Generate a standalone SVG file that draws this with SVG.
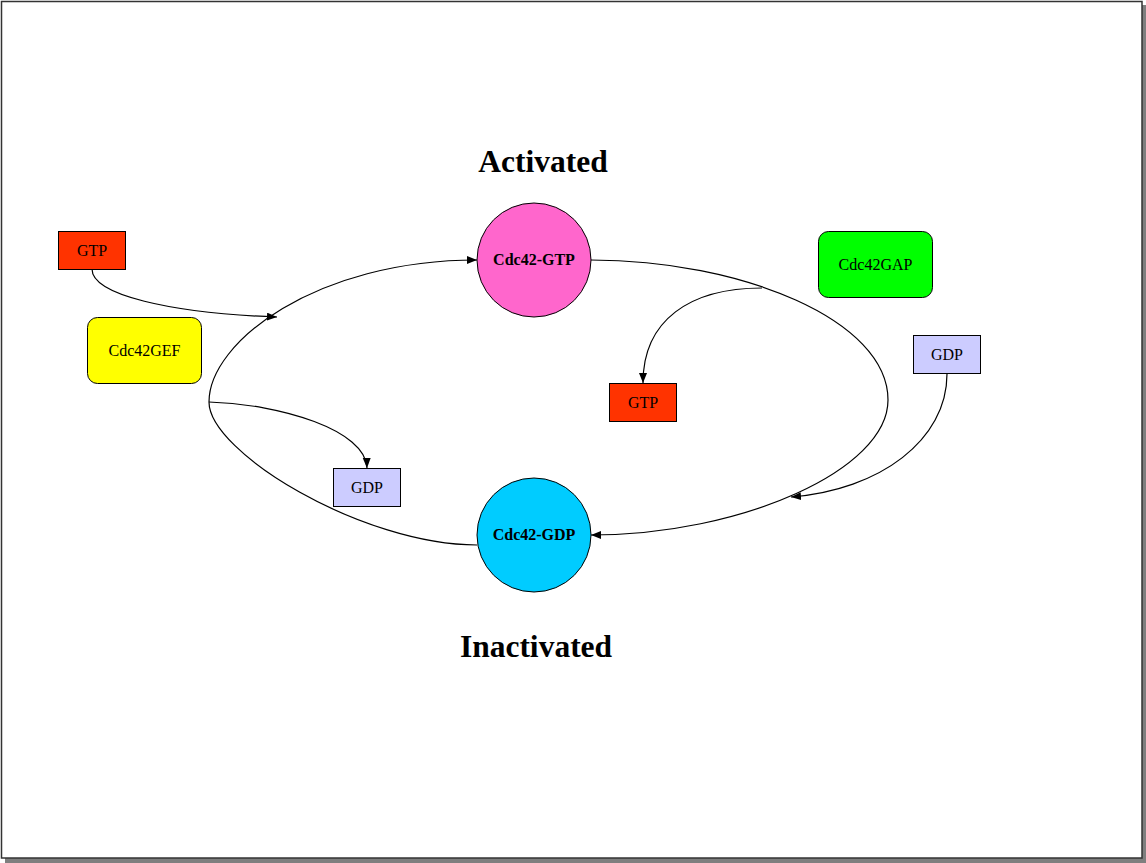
<svg xmlns="http://www.w3.org/2000/svg" width="1146" height="863" viewBox="0 0 1146 863">
<style>
.lbl{font-family:"Liberation Serif","Times New Roman",serif;font-size:16px;fill:#000;text-anchor:middle}
.b{font-weight:bold}
.title{font-family:"Liberation Serif","Times New Roman",serif;font-size:31.5px;font-weight:bold;fill:#000;text-anchor:middle}
.box{stroke:#000;stroke-width:1}
.edge{fill:none;stroke:#000;stroke-width:1.2}
</style>
<defs>
<marker id="arr" markerUnits="userSpaceOnUse" markerWidth="12" markerHeight="10" refX="10" refY="4" orient="auto">
<path d="M0,0 L10,4 L0,8 Z" fill="#000"/>
</marker>
</defs>
<rect x="5" y="5" width="1141" height="858" fill="#7f7f7f"/>
<rect x="1.5" y="1.5" width="1140.5" height="856.5" fill="#fff" stroke="#333" stroke-width="1.5"/>
<text class="title" x="543" y="172">Activated</text>
<text class="title" x="536" y="657">Inactivated</text>
<g id="connectors">
<path class="edge" d="M477,545 C362,545 209,452 209,402 C209,342 316,260 477,260" marker-end="url(#arr)"/>
<path class="edge" d="M591,260 C741,260 888,320 888,400 C888,470 741,535 591,535" marker-end="url(#arr)"/>
<path class="edge" d="M92,269 C92,295 170,313 277,317" marker-end="url(#arr)"/>
<path class="edge" d="M209,402 C280,404 366,430 367,468" marker-end="url(#arr)"/>
<path class="edge" d="M762,288 C690,288 643,320 643,383" marker-end="url(#arr)"/>
<path class="edge" d="M947,374 C947,440 880,490 791,497" marker-end="url(#arr)"/>
</g>
<g id="gtp_left"><rect class="box" x="58.5" y="231.5" width="67" height="38" fill="#ff3300"/><text class="lbl" x="92" y="256">GTP</text></g>
<g id="cdc42gef"><rect class="box" x="87.5" y="317.5" width="114" height="66" rx="10" fill="#ffff00"/><text class="lbl" x="144.5" y="356">Cdc42GEF</text></g>
<g id="cdc42_gtp"><circle class="box" cx="534" cy="260" r="57" fill="#ff66cc"/><text class="lbl b" x="534" y="265">Cdc42-GTP</text></g>
<g id="cdc42gap"><rect class="box" x="818.5" y="231.5" width="114" height="66" rx="10" fill="#00ff00"/><text class="lbl" x="875.5" y="270">Cdc42GAP</text></g>
<g id="gdp_right"><rect class="box" x="913.5" y="335.5" width="67" height="38" fill="#ccccff"/><text class="lbl" x="947" y="360">GDP</text></g>
<g id="gtp_right"><rect class="box" x="609.5" y="383.5" width="67" height="38" fill="#ff3300"/><text class="lbl" x="643" y="408">GTP</text></g>
<g id="gdp_left"><rect class="box" x="333.5" y="468.5" width="67" height="38" fill="#ccccff"/><text class="lbl" x="367" y="493">GDP</text></g>
<g id="cdc42_gdp"><circle class="box" cx="534" cy="535" r="57" fill="#00ccff"/><text class="lbl b" x="534" y="540">Cdc42-GDP</text></g>
</svg>
